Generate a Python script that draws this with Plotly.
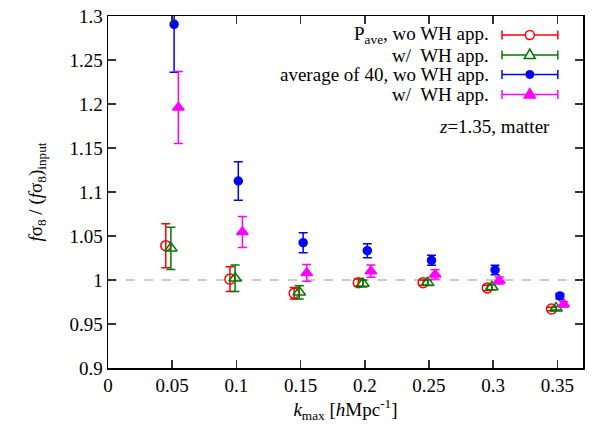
import plotly.graph_objects as go

# ---- data ----
k_red = [0.045, 0.095, 0.145, 0.195, 0.2455, 0.2955, 0.3455]
k_green = [0.049, 0.099, 0.149, 0.1985, 0.249, 0.299, 0.349]
k_blue = [0.0515, 0.1015, 0.152, 0.202, 0.252, 0.3015, 0.352]
k_mag = [0.0548, 0.1047, 0.1548, 0.2048, 0.2548, 0.3048, 0.355]

y_red = [1.039, 1.001, 0.985, 0.997, 0.997, 0.991, 0.967]
e_red = [0.025, 0.014, 0.0065, 0.004, 0.003, 0.003, 0.002]
y_green = [1.036, 1.002, 0.986, 0.996, 0.997, 0.992, 0.968]
e_green = [0.024, 0.015, 0.0075, 0.004, 0.003, 0.003, 0.002]
y_blue = [1.2905, 1.1125, 1.0424, 1.0333, 1.0224, 1.0114, 0.9818]
e_blue = [0.0545, 0.0218, 0.0114, 0.008, 0.0057, 0.0053, 0.003]
y_mag = [1.196, 1.0545, 1.008, 1.0100, 1.0063, 0.9995, 0.9724]
e_mag = [0.041, 0.0176, 0.0095, 0.007, 0.0053, 0.004, 0.003]

x_ticks = [0, 0.05, 0.1, 0.15, 0.2, 0.25, 0.3, 0.35]
x_tick_labels = ["0", "0.05", "0.1", "0.15", "0.2", "0.25", "0.3", "0.35"]
y_ticks = [0.9, 0.95, 1.0, 1.05, 1.1, 1.15, 1.2, 1.25, 1.3]
y_tick_labels = ["0.9", "0.95", "1", "1.05", "1.1", "1.15", "1.2", "1.25", "1.3"]

legend_labels = ["P<sub>ave</sub>, wo WH app.", "w/  WH app.",
                 "average of 40, wo WH app.", "w/  WH app."]
colors = ["#ff0000", "#007a00", "#0000ff", "#ff00ff"]

FONT = "Times New Roman"
FS = 19

fig = go.Figure()

series = [
    (k_red, y_red, e_red, "circle-open", 10, colors[0]),
    (k_green, y_green, e_green, "triangle-up-open", 11, colors[1]),
    (k_blue, y_blue, e_blue, "circle", 8, colors[2]),
    (k_mag, y_mag, e_mag, "triangle-up", 10, colors[3]),
]
for (xs, ys, es, sym, sz, col) in series:
    fig.add_trace(go.Scatter(
        x=xs, y=ys, mode="markers",
        marker=dict(symbol=sym, size=sz, color=col,
                    line=dict(color=col, width=1.5)),
        error_y=dict(type="data", array=es, visible=True, color=col,
                     thickness=1.5, width=4.5),
        showlegend=False,
    ))

fig.add_hline(y=1.0, line=dict(color="#bbbbbb", width=1.5, dash="dash"), layer="below")

# ---- manual gnuplot-style key ----
row_y = [0.946, 0.889, 0.834, 0.777]
text_x = 0.806
line_x0, line_x1, mark_x = 0.8295, 0.947, 0.888
for i, (lab, col) in enumerate(zip(legend_labels, colors)):
    fig.add_annotation(x=text_x, y=row_y[i], xref="paper", yref="paper",
                       text=lab, showarrow=False, xanchor="right", yanchor="middle",
                       font=dict(family=FONT, size=FS, color="black"))
    fig.add_shape(type="line", xref="paper", yref="paper",
                  x0=line_x0, x1=line_x1, y0=row_y[i], y1=row_y[i],
                  line=dict(color=col, width=1.5))
    for cx in (line_x0, line_x1):
        fig.add_shape(type="line", xref="paper", yref="paper",
                      xsizemode="pixel", ysizemode="pixel",
                      xanchor=cx, yanchor=row_y[i],
                      x0=0, x1=0, y0=-4.5, y1=4.5,
                      line=dict(color=col, width=1.5))
    if i == 0:
        fig.add_shape(type="circle", xref="paper", yref="paper",
                      xsizemode="pixel", ysizemode="pixel",
                      xanchor=mark_x, yanchor=row_y[i],
                      x0=-4.5, x1=4.5, y0=-4.5, y1=4.5,
                      fillcolor="white", line=dict(color=col, width=1.5))
    elif i == 2:
        fig.add_shape(type="circle", xref="paper", yref="paper",
                      xsizemode="pixel", ysizemode="pixel",
                      xanchor=mark_x, yanchor=row_y[i],
                      x0=-4, x1=4, y0=-4, y1=4,
                      fillcolor=col, line=dict(color=col, width=1))
    else:
        fill = "white" if i == 1 else col
        fig.add_shape(type="path", xref="paper", yref="paper",
                      xsizemode="pixel", ysizemode="pixel",
                      xanchor=mark_x, yanchor=row_y[i],
                      path="M -5.5,-3.5 L 5.5,-3.5 L 0,6 Z",
                      fillcolor=fill, line=dict(color=col, width=1.5))

fig.add_annotation(x=0.935, y=0.685, xref="paper", yref="paper",
                   text="<i>z</i>=1.35, matter", showarrow=False,
                   xanchor="right", yanchor="middle",
                   font=dict(family=FONT, size=FS, color="black"))

axis_common = dict(showgrid=False, zeroline=False, showline=True,
                   linecolor="black", linewidth=1.5, mirror="ticks",
                   ticks="inside", ticklen=8, tickwidth=1.5, tickcolor="#333333",
                   automargin=False, ticklabeloverflow="allow",
                   tickfont=dict(family=FONT, size=FS, color="black"))

fig.update_xaxes(range=[0, 0.37], tickvals=x_ticks, ticktext=x_tick_labels,
                 title=dict(text="<i>k</i><sub>max</sub> [<i>h</i>Mpc<sup>-1</sup>]",
                            font=dict(family=FONT, size=FS, color="black"), standoff=0),
                 **axis_common)
fig.update_yaxes(range=[0.9, 1.3], tickvals=y_ticks, ticktext=y_tick_labels,
                 title=dict(text="<i>f</i>σ<sub>8</sub> / (<i>f</i>σ<sub>8</sub>)<sub>input</sub>",
                            font=dict(family=FONT, size=FS, color="black"), standoff=22),
                 **axis_common)

fig.update_layout(width=599, height=429,
                  margin=dict(l=108, r=16, t=16, b=61),
                  plot_bgcolor="white", paper_bgcolor="white",
                  showlegend=False)

# remove the default 8px page margin so the figure fills the window exactly
fig.write_html("out.html",
               config={"displayModeBar": False, "staticPlot": True},
               post_script="document.body.style.margin='0';document.body.style.overflow='hidden';")
